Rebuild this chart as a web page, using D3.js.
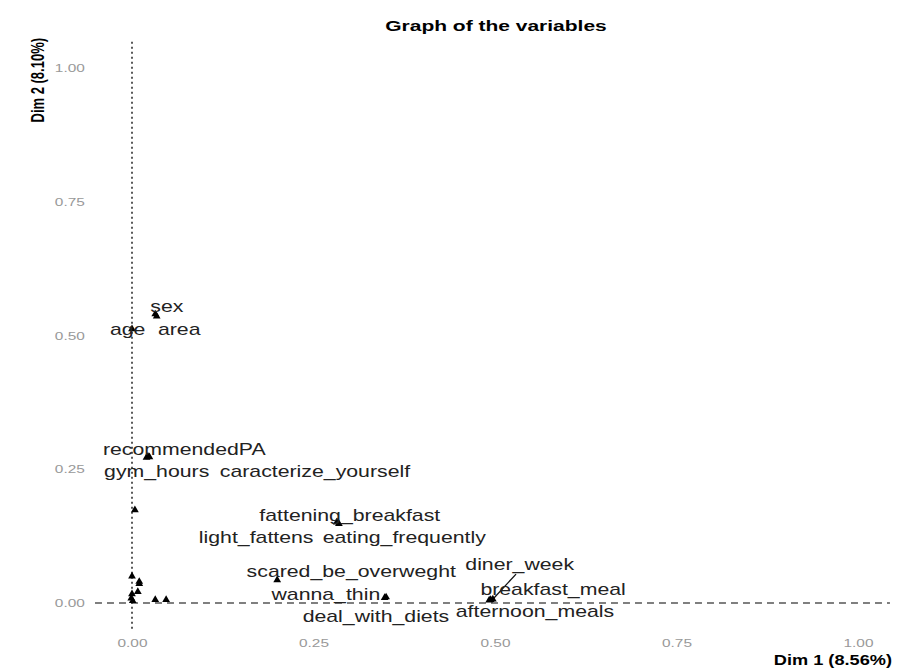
<!DOCTYPE html>
<html>
<head>
<meta charset="utf-8">
<script src="https://cdn.jsdelivr.net/npm/d3@7"></script>
<style>
  body { margin: 0; background: #fff; }
  text { font-family: "Liberation Sans", Arial, sans-serif; }
</style>
</head>
<body>
<div id="chart"></div>
<script>
(function() {
  // variable names, coordinates on Dim 1 / Dim 2 (squared cos)
  var names = ['sex', 'age', 'area', 'recommendedPA', 'gym_hours', 'caracterize_yourself',
    'fattening_breakfast', 'light_fattens', 'eating_frequently', 'scared_be_overweght',
    'diner_week', 'breakfast_meal', 'wanna_thin', 'deal_with_diets', 'afternoon_meals',
    '', '', '', '', '', '', '', '', ''];
  var dim1 = [0.032, 0.000, 0.034, 0.022, 0.020, 0.024,
    0.282, 0.004, 0.285, 0.200,
    0.497, 0.494, 0.350, 0.348, 0.492,
    0.000, 0.010, 0.010, 0.008, 0.000, -0.001, 0.001, 0.032, 0.047];
  var dim2 = [0.540, 0.512, 0.536, 0.274, 0.272, 0.273,
    0.151, 0.174, 0.148, 0.043,
    0.007, 0.006, 0.011, 0.010, 0.005,
    0.050, 0.036, 0.040, 0.021, 0.017, 0.009, 0.004, 0.006, 0.006];
  // where ggrepel pushed the labels (in Dim units)
  var labelX = [0.048, -0.006, 0.065, 0.072, 0.034, 0.252,
    0.300, 0.171, 0.375, 0.302,
    0.534, 0.580, 0.267, 0.336, 0.555];
  var labelY = [0.552, 0.508, 0.508, 0.284, 0.243, 0.243,
    0.162, 0.120, 0.120, 0.056,
    0.069, 0.022, 0.013, -0.028, -0.019];
  var xTicks = [0, 0.25, 0.5, 0.75, 1];
  var yTicks = [0, 0.25, 0.5, 0.75, 1];
  var xTickLabels = ['0.00', '0.25', '0.50', '0.75', '1.00'];
  var yTickLabels = ['0.00', '0.25', '0.50', '0.75', '1.00'];

  var width = 902, height = 671;
  var stretch = 1.33; // the picture is wider than it is tall
  var svg = d3.select('#chart').append('svg')
    .attr('width', width).attr('height', height);

  var x = d3.scaleLinear().domain([0, 1]).range([132, 858]);
  var y = d3.scaleLinear().domain([0, 1]).range([603, 68]);

  // reference lines
  svg.append('line')
    .attr('x1', x(-0.051)).attr('x2', x(1.044))
    .attr('y1', y(0)).attr('y2', y(0))
    .attr('stroke', '#555').attr('stroke-width', 1.5)
    .attr('stroke-dasharray', '7,5');
  svg.append('line')
    .attr('x1', x(0)).attr('x2', x(0))
    .attr('y1', y(1.049)).attr('y2', y(-0.048))
    .attr('stroke', '#222').attr('stroke-width', 1.5)
    .attr('stroke-dasharray', '2,3');

  // axes without lines, only gray tick labels
  var xAxis = svg.append('g').attr('transform', 'translate(0,' + 636 + ')')
    .call(d3.axisBottom(x).tickValues(xTicks).tickSize(0)
      .tickFormat(function(d, i) { return xTickLabels[i]; }));
  var yAxis = svg.append('g').attr('transform', 'translate(' + 89 + ',0)')
    .call(d3.axisLeft(y).tickValues(yTicks).tickSize(0)
      .tickFormat(function(d, i) { return yTickLabels[i]; }));
  [xAxis, yAxis].forEach(function(a) {
    a.select('.domain').remove();
    a.selectAll('text').attr('fill', '#999').attr('font-size', 11)
      .attr('font-family', '"DejaVu Sans", sans-serif')
      .attr('transform', 'scale(' + 1.4 + ',1)');
  });

  // diner_week connector segment
  svg.append('line')
    .attr('x1', x(dim1[10])).attr('y1', y(dim2[10]))
    .attr('x2', x(0.529)).attr('y2', y(0.054))
    .attr('stroke', '#111').attr('stroke-width', 1.3);

  // points
  var tri = d3.symbol().type(d3.symbolTriangle).size(26);
  svg.append('g').selectAll('path')
    .data(dim1)
    .enter().append('path')
    .attr('d', tri)
    .attr('transform', function(d, i) {
      return 'translate(' + x(d) + ',' + y(dim2[i]) + ')';
    })
    .attr('fill', '#000');

  // labels
  svg.append('g').selectAll('text')
    .data(labelX)
    .enter().append('text')
    .attr('transform', function(d, i) {
      return 'translate(' + x(d) + ',' + y(labelY[i]) + ') scale(' + stretch + ',1)';
    })
    .attr('text-anchor', 'middle')
    .attr('dominant-baseline', 'middle')
    .attr('font-size', 16)
    .attr('fill', '#222')
    .text(function(d, i) { return names[i]; });

  // titles
  svg.append('text')
    .attr('transform', 'translate(496,31) scale(1.5,1)')
    .attr('text-anchor', 'middle')
    .attr('font-size', 14).attr('font-weight', 'bold')
    .text('Graph of the variables');
  svg.append('text')
    .attr('transform', 'translate(892,665) scale(1.3,1)')
    .attr('text-anchor', 'end')
    .attr('font-size', 14).attr('font-weight', 'bold')
    .text('Dim 1 (8.56%)');
  svg.append('text')
    .attr('transform', 'translate(44,38) scale(1.4,1) rotate(-90)')
    .attr('text-anchor', 'end')
    .attr('font-size', 13).attr('font-weight', 'bold')
    .attr('font-family', '"Liberation Sans Narrow", "DejaVu Sans Condensed", sans-serif')
    .text('Dim 2 (8.10%)');
}).call(this);
</script>
</body>
</html>
